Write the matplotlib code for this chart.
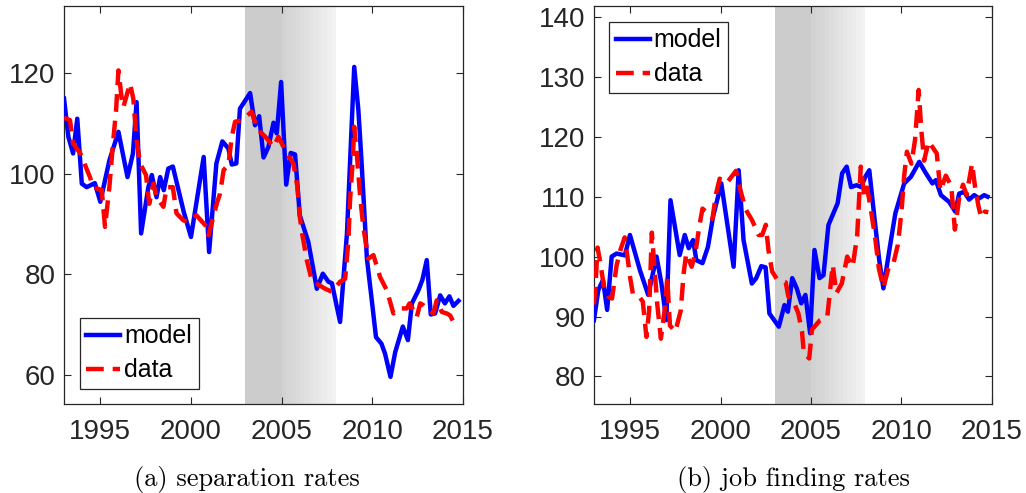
# separation and job finding rates, model vs data (two panels)
import matplotlib
matplotlib.use('Agg')
import matplotlib.pyplot as plt
import numpy as np

plt.rcParams['font.family'] = ['Liberation Sans', 'DejaVu Sans']

# ---- data (year, index) ----
sep_model_t = [1993.0, 1993.24, 1993.5, 1993.73, 1993.98, 1994.25, 1994.7, 1995.0, 1995.5, 1996.0,
               1996.5, 1996.8, 1997.0, 1997.25, 1997.65, 1997.84, 1998.1, 1998.3, 1998.5, 1998.75,
               1999.0, 1999.6, 2000.0, 2000.7, 2001.0, 2001.4, 2001.73, 2002.06, 2002.25, 2002.5,
               2002.7, 2003.26, 2003.53, 2003.76, 2004.0, 2004.27, 2004.55, 2004.73, 2004.97, 2005.25,
               2005.5, 2005.74, 2006.0, 2006.47, 2006.94, 2007.27, 2007.58, 2007.77, 2008.22, 2008.6,
               2009.0, 2009.23, 2009.4, 2009.7, 2009.97, 2010.2, 2010.5, 2010.7, 2011.0, 2011.26,
               2011.68, 2011.96, 2012.18, 2012.54, 2012.76, 2013.0, 2013.22, 2013.46, 2013.74, 2014.0,
               2014.25, 2014.47, 2014.75]
sep_model = [114.9, 107.3, 104.0, 110.9, 98.0, 97.3, 98.1, 94.4, 102.6, 108.3,
             99.3, 104.0, 114.2, 88.1, 97.3, 99.7, 95.3, 99.3, 96.7, 101.0,
             101.4, 92.4, 87.4, 103.3, 84.4, 102.0, 106.4, 105.0, 101.8, 102.0,
             112.9, 116.0, 109.6, 111.4, 103.2, 105.3, 110.1, 108.0, 118.2, 97.8,
             104.1, 103.8, 91.7, 86.4, 77.1, 80.1, 78.5, 78.2, 70.5, 88.1,
             121.2, 112.6, 102.6, 83.1, 74.8, 67.5, 66.2, 64.2, 59.6, 64.5,
             69.6, 66.9, 74.2, 76.8, 78.9, 82.8, 72.0, 72.2, 75.8, 74.2,
             75.6, 73.7, 74.7]

sep_data_t = [1993.0, 1993.33, 1993.5, 1993.9, 1994.43, 1994.6, 1995.08, 1995.26, 1995.5, 1995.7,
              1995.87, 1996.0, 1996.18, 1996.27, 1996.64, 1996.82, 1997.0, 1997.2, 1997.52, 1997.7,
              1997.93, 1998.1, 1998.48, 1998.66, 1999.0, 1999.2, 1999.58, 1999.86, 2000.3, 2000.87,
              2000.96, 2001.42, 2001.6, 2001.8, 2002.06, 2002.25, 2002.43, 2002.8, 2003.35, 2003.63,
              2004.1, 2004.55, 2004.82, 2005.28, 2005.65, 2005.87, 2005.98, 2006.1, 2006.39, 2006.66,
              2006.94, 2007.4, 2007.77, 2008.22, 2008.5, 2008.68, 2008.77, 2008.92, 2009.0, 2009.14,
              2009.33, 2009.5, 2009.78, 2010.06, 2010.43, 2010.8, 2011.16, 2011.53, 2011.9, 2012.05,
              2012.27, 2012.45, 2012.64, 2012.82, 2013.1, 2013.37, 2013.55, 2013.83, 2014.1, 2014.29,
              2014.47]
sep_data = [111.1, 110.6, 106.0, 104.0, 99.3, 97.3, 96.7, 89.4, 97.3, 106.0,
            112.6, 120.5, 114.9, 113.2, 117.9, 114.9, 106.6, 102.0, 99.7, 94.0,
            98.0, 95.3, 93.4, 97.3, 97.3, 92.1, 90.7, 90.4, 91.7, 89.4,
            87.7, 94.0, 96.0, 100.7, 101.7, 107.3, 110.3, 110.6, 112.3, 109.0,
            107.3, 105.3, 107.3, 104.0, 102.0, 97.3, 92.0, 88.7, 82.7, 78.8,
            78.1, 77.1, 76.5, 78.5, 79.1, 86.7, 94.7, 102.6, 109.3, 104.0,
            95.3, 89.4, 83.1, 83.8, 79.4, 76.8, 72.2, 73.2, 73.2, 74.2,
            72.8, 71.5, 74.2, 73.8, 72.8, 72.2, 74.8, 72.5, 72.2, 71.8,
            70.5]

jf_model_t = [1993.0, 1993.24, 1993.5, 1993.73, 1993.98, 1994.25, 1994.71, 1994.99, 1995.54, 1996.0,
              1996.46, 1996.73, 1997.0, 1997.23, 1997.74, 1998.02, 1998.24, 1998.48, 1998.66, 1999.0,
              1999.3, 1999.58, 2000.04, 2000.72, 2001.0, 2001.27, 2001.73, 2001.97, 2002.25, 2002.49,
              2002.7, 2003.22, 2003.53, 2003.72, 2003.96, 2004.21, 2004.46, 2004.69, 2004.95, 2005.19,
              2005.47, 2005.69, 2005.96, 2006.47, 2006.72, 2006.97, 2007.21, 2007.52, 2007.77, 2008.0,
              2008.22, 2008.5, 2008.77, 2009.0, 2009.33, 2009.66, 2010.15, 2010.52, 2010.98, 2011.35,
              2011.71, 2011.9, 2012.18, 2012.64, 2012.97, 2013.19, 2013.46, 2013.74, 2014.02, 2014.29,
              2014.57, 2014.75]
jf_model = [89.4, 94.4, 96.1, 91.1, 100.0, 100.5, 100.2, 103.6, 97.75, 93.6,
            100.0, 95.5, 89.4, 109.4, 100.25, 103.6, 101.4, 102.75, 99.4, 98.9,
            101.6, 106.6, 112.2, 98.3, 114.4, 102.75, 95.5, 96.4, 98.4, 98.2,
            90.5, 88.3, 91.9, 90.8, 96.4, 94.7, 92.2, 93.6, 87.2, 101.1,
            96.4, 96.9, 105.25, 108.9, 113.9, 115.0, 111.6, 111.9, 111.6, 113.3,
            114.4, 106.6, 99.4, 94.7, 101.1, 107.2, 112.2, 113.3, 115.8, 113.9,
            112.2, 112.75, 110.25, 109.1, 107.5, 110.5, 110.8, 109.5, 110.25, 109.7,
            110.25, 110.0]

jf_data_t = [1993.0, 1993.1, 1993.2, 1993.35, 1993.55, 1993.8, 1994.0, 1994.25, 1994.45, 1994.7,
             1994.85, 1995.0, 1995.15, 1995.5, 1995.7, 1995.9, 1996.05, 1996.2, 1996.35, 1996.5,
             1996.7, 1996.95, 1997.05, 1997.2, 1997.5, 1997.8, 1997.95, 1998.1, 1998.4, 1998.6,
             1998.85, 1999.0, 1999.3, 1999.55, 1999.75, 1999.95, 2000.35, 2000.85, 2001.1, 2001.4,
             2001.75, 2002.1, 2002.3, 2002.5, 2002.65, 2002.85, 2003.1, 2003.6, 2003.75, 2004.1,
             2004.3, 2004.5, 2004.6, 2004.9, 2005.05, 2005.5, 2005.9, 2006.2, 2006.4, 2006.7,
             2007.0, 2007.3, 2007.55, 2007.75, 2007.95, 2008.1, 2008.3, 2008.55, 2008.75, 2009.0,
             2009.3, 2009.55, 2009.8, 2010.0, 2010.15, 2010.3, 2010.55, 2010.75, 2010.95, 2011.1,
             2011.25, 2011.5, 2011.95, 2012.15, 2012.45, 2012.75, 2012.95, 2013.2, 2013.4, 2013.6,
             2013.9, 2014.05, 2014.25, 2014.4, 2014.6, 2014.8]
jf_data = [92.0, 96.0, 101.5, 99.0, 95.0, 93.3, 93.0, 98.5, 101.0, 103.2,
           100.0, 96.5, 93.8, 93.3, 92.5, 86.6, 91.0, 104.0, 98.0, 92.0,
           86.3, 92.0, 96.5, 88.5, 87.5, 91.0, 97.0, 100.5, 98.3, 100.5,
           105.5, 108.0, 107.2, 106.3, 110.5, 113.0, 112.3, 114.3, 111.0, 107.8,
           106.0, 103.6, 103.6, 105.3, 101.0, 97.5, 96.3, 95.7, 93.3, 92.0,
           90.5, 87.5, 84.0, 83.0, 87.8, 89.4, 90.0, 98.6, 93.9, 95.5,
           100.0, 98.3, 103.5, 115.0, 110.0, 111.5, 108.0, 103.0, 98.0, 94.8,
           98.3, 98.8, 102.0, 107.5, 113.5, 117.5, 115.5, 119.5, 127.8, 121.0,
           116.0, 119.2, 117.2, 111.0, 113.5, 111.8, 104.5, 110.0, 112.0, 110.3,
           115.5, 112.0, 108.5, 106.5, 107.5, 107.4]

# shaded period: solid 2003-2005, fading out quarter by quarter to 2008
shade_start, shade_mid, shade_end = 2003.0, 2005.0, 2008.0

xticks = [1995, 2000, 2005, 2010, 2015]
sep_yticks = [60, 80, 100, 120]
jf_yticks = [80, 90, 100, 110, 120, 130, 140]
captions = ['(a) separation rates', '(b) job finding rates']

fig = plt.figure(figsize=(10.26, 4.93), dpi=100)
ax1 = fig.add_axes([0.0624, 0.1805, 0.3889, 0.8073])
ax2 = fig.add_axes([0.5789, 0.1805, 0.3879, 0.8073])

axcol = '#262626'
leg_kw = dict(borderaxespad=0, fontsize=18, fancybox=False, edgecolor=axcol, framealpha=1,
              handlelength=1.36, handletextpad=0.16, labelspacing=0.4, borderpad=0.26)


def shade(ax):
    ax.axvspan(shade_start, shade_mid, color='0.8', lw=0, zorder=0)
    steps = np.arange(shade_mid, shade_end, 0.25)
    for i, s in enumerate(steps):
        g = 0.81 + 0.14 * (i + 1) / len(steps)
        ax.axvspan(s, s + 0.25, color=str(g), lw=0, zorder=0)


def style(ax, yticks, ylim):
    ax.set_xlim(1993, 2015)
    ax.set_ylim(*ylim)
    ax.set_xticks(xticks)
    ax.set_yticks(yticks)
    ax.tick_params(direction='in', top=True, right=True, length=5, width=0.8,
                   colors=axcol, labelsize=20)
    ax.tick_params(axis='x', pad=11)
    ax.tick_params(axis='y', pad=6)
    for sp in ax.spines.values():
        sp.set_color(axcol)
        sp.set_linewidth(0.9)


shade(ax1)
ax1.plot(sep_model_t, sep_model, color='blue', lw=3.2, label='model', zorder=3)
ax1.plot(sep_data_t, sep_data, color='red', lw=3.2, ls=(0, (4, 2)), label='data', zorder=4)
style(ax1, sep_yticks, (54.2, 133.3))
leg1 = ax1.legend(loc='lower left', bbox_to_anchor=(0.04, 0.038), **leg_kw)
leg1.get_frame().set_linewidth(0.9)

shade(ax2)
ax2.plot(jf_model_t, jf_model, color='blue', lw=3.2, label='model', zorder=3)
ax2.plot(jf_data_t, jf_data, color='red', lw=3.2, ls=(0, (4, 2)), label='data', zorder=4)
style(ax2, jf_yticks, (75.4, 141.8))
leg2 = ax2.legend(loc='upper left', bbox_to_anchor=(0.038, 0.96), **leg_kw)
leg2.get_frame().set_linewidth(0.9)

# sub-captions
fig.text(247 / 1026, 0.028, captions[0], ha='center', va='center',
         fontsize=19, family=['cmr10', 'DejaVu Serif'])
fig.text(793 / 1026, 0.028, captions[1], ha='center', va='center',
         fontsize=19, family=['cmr10', 'DejaVu Serif'])

fig.savefig('out.png', dpi=100)
